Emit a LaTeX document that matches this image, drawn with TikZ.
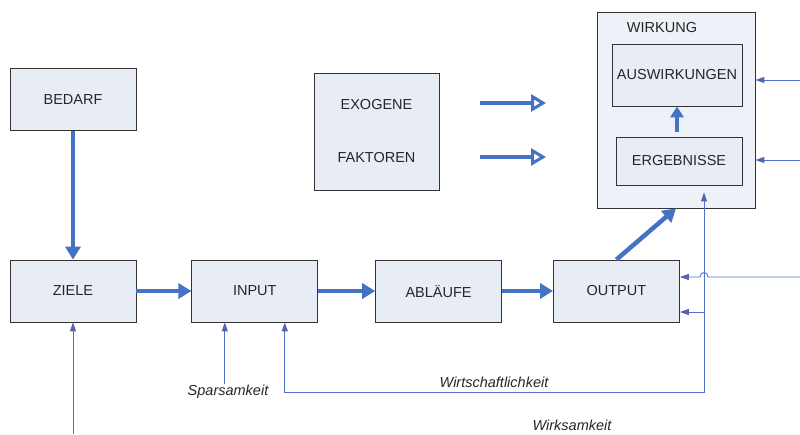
\documentclass[tikz,border=0pt]{standalone}
\usepackage{fontspec}
\setmainfont{Liberation Sans}
\usetikzlibrary{positioning,arrows.meta}

\definecolor{boxfill}{HTML}{E7ECF5}
\definecolor{outfill}{HTML}{EEF1F7}
\definecolor{arrc}{HTML}{4472C4}
\definecolor{linec}{HTML}{4D72C6}
\definecolor{tipc}{HTML}{5A62AA}
\definecolor{txtc}{HTML}{262626}

\tikzset{
  box/.style={draw=black!80, line width=0.8pt, fill=boxfill, text=txtc,
    minimum width=126pt, minimum height=62pt, inner sep=0pt,
    font=\fontsize{14.5}{17}\selectfont},
  lbl/.style={text=txtc, inner sep=1pt, font=\fontsize{14.5}{17}\selectfont\itshape},
  bigarrow/.style={line width=4.5pt, draw=arrc, -{Triangle[length=13pt,width=15pt]}},
  openarrow/.style={line width=4pt, draw=arrc, -{Triangle[open,length=15pt,width=17pt,line width=3pt]}},
  thinarrow/.style={line width=0.9pt, draw=linec, -{Triangle[length=9pt,width=6pt,color=tipc]}},
}

\begin{document}
\begin{tikzpicture}[x=1pt,y=-1pt]

  \useasboundingbox (0,0) rectangle (800,434);

  % Nodes

  \node[box] (ziele) at (73,291) {ZIELE};
  \node[box,above=129pt of ziele] (bedarf) {BEDARF};
  \node[box,right=55pt of ziele] (input) {INPUT};
  \node[box,right=57pt of input] (ablaeufe) {ABLÄUFE};
  \node[box,right=51pt of ablaeufe] (output) {OUTPUT};

  \node[box,minimum width=125pt,minimum height=117pt,align=center] (exogen) at (376.5,131.5)
    {EXOGENE\\[36pt]FAKTOREN};

  \node[box,fill=outfill,minimum width=158pt,minimum height=196pt] (wirkung) at (676,110) {};
  \node[text=txtc,font=\fontsize{14.5}{17}\selectfont] (wirkung_t) at (662,28) {WIRKUNG};
  \node[box,minimum width=130pt] (auswirkungen) at (677,75) {AUSWIRKUNGEN};
  \node[box,minimum height=48pt] (ergebnisse) at (679,161) {ERGEBNISSE};

  % Labels

  \node[lbl] (spar) at (228,392) {Sparsamkeit};
  \node[lbl] (wirt) at (494,382) {Wirtschaftlichkeit};
  \node[lbl] (wirks) at (572,425) {Wirksamkeit};

  % Free ends

  \coordinate (exo_a) at (480,103);
  \coordinate (exo_ae) at (546,103);
  \coordinate (exo_b) at (480,157);
  \coordinate (exo_be) at (546,157);
  \coordinate (spar_in) at ([xshift=-30pt]input.south);
  \coordinate (wirt_in) at ([xshift=30pt]input.south);
  \coordinate (erg_in) at ([xshift=25pt,yshift=-7pt]ergebnisse.south);
  \coordinate (wirt_out) at (704,312);
  \coordinate (wirks_in) at (73,434);
  \coordinate (kost) at (800,277);
  \coordinate (jump_r) at (708,277);
  \coordinate (jump_l) at (700,277);
  \coordinate (r_ausw) at (800,80);
  \coordinate (r_erg) at (800,160);

  % Edges

  \draw[bigarrow] (bedarf) -- (ziele);
  \draw[bigarrow] (ziele) -- (input);
  \draw[bigarrow] (input) -- (ablaeufe);
  \draw[bigarrow] (ablaeufe) -- (output);
  \draw[bigarrow] (output.north) -- (wirkung.south);
  \draw[bigarrow,line width=4pt,-{Triangle[length=11pt,width=13pt]},shorten <=5pt]
    (ergebnisse.north -| auswirkungen.south) -- (auswirkungen.south);

  \draw[openarrow] (exo_a) -- (exo_ae);
  \draw[openarrow] (exo_b) -- (exo_be);

  \draw[thinarrow] (wirks_in) -- (ziele.south);
  \draw[thinarrow] (spar_in |- spar.north) -- (spar_in);
  \draw[thinarrow,{Triangle[length=9pt,width=6pt,color=tipc]}-{Triangle[length=9pt,width=6pt,color=tipc]}]
    (wirt_in) -- ++(0,70) -| (erg_in);
  \draw[thinarrow] (wirt_out) -- (wirt_out -| output.east);
  \draw[thinarrow] (kost) -- (jump_r) .. controls +(0,-6) and +(0,-6) .. (jump_l)
    -- (kost -| output.east);
  \draw[thinarrow] (r_ausw) -- (r_ausw -| wirkung.east);
  \draw[thinarrow] (r_erg) -- (r_erg -| wirkung.east);

\end{tikzpicture}
\end{document}
